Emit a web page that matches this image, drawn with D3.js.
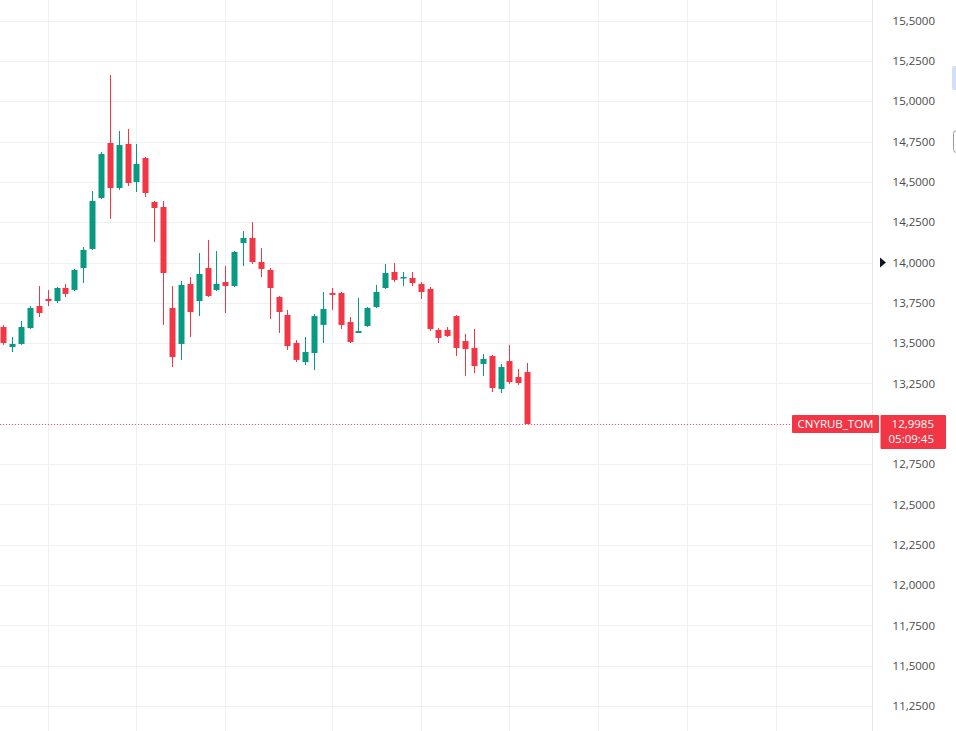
<!DOCTYPE html>
<html>
<head>
<meta charset="utf-8">
<script src="https://cdn.jsdelivr.net/npm/d3@7"></script>
<style>
  html, body { margin: 0; padding: 0; background: #ffffff; overflow: hidden; }
  svg { display: block; }
</style>
</head>
<body>
<svg id="chart" width="956" height="731"></svg>
<script>
// ---- data (CNYRUB_TOM daily candles) ----
const opens  = [13.600,13.476,13.495,13.594,13.730,13.774,13.761,13.842,13.830,13.966,
                14.084,14.400,14.741,14.462,14.735,14.499,14.648,14.375,14.344,13.718,
                13.495,13.867,13.761,13.966,13.830,13.879,13.854,14.121,14.152,14.003,
                13.954,13.786,13.675,13.501,13.383,13.439,13.613,13.811,13.811,13.631,
                13.563,13.606,13.724,13.842,13.941,13.904,13.904,13.867,13.836,13.582,
                13.582,13.668,13.513,13.470,13.371,13.420,13.216,13.389,13.290,13.321];
const highs  = [13.613,13.538,13.637,13.730,13.854,13.830,13.848,13.867,13.960,14.096,
                14.443,14.685,15.162,14.815,14.828,14.735,14.654,14.381,14.381,13.854,
                13.885,13.910,14.059,14.140,14.071,13.978,14.071,14.195,14.251,14.090,
                13.966,13.792,13.706,13.520,13.538,13.681,13.817,13.842,13.817,13.662,
                13.780,13.724,13.861,13.991,13.997,13.941,13.941,13.879,13.848,13.594,
                13.600,13.675,13.557,13.588,13.433,13.427,13.371,13.489,13.340,13.377];
const lows   = [13.489,13.445,13.489,13.588,13.662,13.730,13.749,13.786,13.823,13.873,
                14.078,14.394,14.270,14.450,14.474,14.437,14.406,14.127,13.613,13.352,
                13.396,13.538,13.668,13.786,13.823,13.687,13.848,13.978,13.991,13.910,
                13.650,13.563,13.458,13.383,13.365,13.334,13.501,13.706,13.588,13.501,
                13.563,13.600,13.718,13.836,13.879,13.854,13.854,13.774,13.575,13.501,
                13.538,13.420,13.296,13.315,13.296,13.197,13.191,13.247,13.241,12.9985];
const closes = [13.501,13.495,13.600,13.718,13.687,13.761,13.842,13.805,13.954,14.078,
                14.381,14.673,14.462,14.728,14.493,14.611,14.431,14.338,13.935,13.414,
                13.861,13.693,13.929,13.792,13.867,13.854,14.065,14.152,14.003,13.960,
                13.842,13.693,13.482,13.396,13.445,13.668,13.712,13.799,13.613,13.507,
                13.575,13.718,13.817,13.935,13.892,13.910,13.873,13.817,13.588,13.532,
                13.544,13.470,13.464,13.358,13.402,13.222,13.352,13.259,13.253,12.9985];
const priceTicks = [11.25,11.5,11.75,12,12.25,12.5,12.75,13,13.25,13.5,13.75,14,14.25,14.5,14.75,15,15.25,15.5];
const gridBars = [5,15,25,37,47,57,67,77,87];   // bar indices where vertical grid lines fall
const symbol = "CNYRUB_TOM";
const lastPrice = 12.9985;
const countdown = "05:09:45";

// ---- layout ----
const W = 956, H = 731;
const plotRight = 872;
const upColor = "#089981", downColor = "#f23645";

const svg = d3.select("#chart");

const x = d3.scaleLinear().domain([0, 59]).range([3.3, 527.2]);
const y = d3.scaleLinear().domain([14, 13]).range([262.5, 423.8]);

const fmt = v => d3.format(".4f")(v).replace(".", ",");

// horizontal grid
svg.append("g").selectAll("line").data(priceTicks).join("line")
  .attr("x1", 0).attr("x2", plotRight)
  .attr("y1", d => Math.round(y(d)) + 0.5).attr("y2", d => Math.round(y(d)) + 0.5)
  .attr("stroke", "#eef0f4").attr("stroke-width", 1);

// vertical grid
svg.append("g").selectAll("line").data(gridBars.filter(i => x(i) < plotRight - 20)).join("line")
  .attr("x1", d => Math.round(x(d)) + 0.5).attr("x2", d => Math.round(x(d)) + 0.5)
  .attr("y1", 0).attr("y2", H)
  .attr("stroke", "#eef0f4").attr("stroke-width", 1);

// axis separator
svg.append("line")
  .attr("x1", plotRight + 0.5).attr("x2", plotRight + 0.5)
  .attr("y1", 0).attr("y2", H)
  .attr("stroke", "#e6e8ee").attr("stroke-width", 1);

// price line (dotted)
const yLast = y(lastPrice);
svg.append("line")
  .attr("x1", 0).attr("x2", 792)
  .attr("y1", Math.round(yLast) + 0.5).attr("y2", Math.round(yLast) + 0.5)
  .attr("stroke", downColor).attr("stroke-width", 1)
  .attr("stroke-dasharray", "1,2").attr("opacity", 0.8);

// candles
const candles = d3.range(opens.length).map(i => ({
  i, o: opens[i], h: highs[i], l: lows[i], c: closes[i]
}));
const bodyW = 6;
const g = svg.append("g");
const cg = g.selectAll("g.c").data(candles).join("g").attr("class", "c")
  .attr("fill", d => d.c >= d.o ? upColor : downColor)
  .attr("stroke", d => d.c >= d.o ? upColor : downColor);
cg.append("line")
  .attr("x1", d => Math.round(x(d.i)) + 0.5).attr("x2", d => Math.round(x(d.i)) + 0.5)
  .attr("y1", d => y(d.h)).attr("y2", d => y(d.l))
  .attr("stroke-width", 1);
cg.append("rect")
  .attr("x", d => Math.round(x(d.i)) + 0.5 - bodyW / 2)
  .attr("width", bodyW)
  .attr("y", d => Math.min(y(d.o), y(d.c)))
  .attr("height", d => Math.max(1.5, Math.abs(y(d.o) - y(d.c))))
  .attr("stroke", "none");

// right price axis
const axis = d3.axisRight(y).tickValues(priceTicks).tickFormat(fmt).tickSize(0);
const ag = svg.append("g").attr("transform", `translate(${plotRight},0)`).call(axis);
ag.select(".domain").remove();
ag.selectAll("text")
  .attr("x", 63).attr("dy", "0.32em")
  .attr("text-anchor", "end")
  .attr("fill", "#4a4a4a")
  .style("font-family", "'Open Sans', 'Noto Sans', sans-serif")
  .style("font-size", "11.5px");

// marker triangle at 14,0000
svg.append("path")
  .attr("d", `M880,${y(14) - 5} L886,${y(14)} L880,${y(14) + 5} Z`)
  .attr("fill", "#131722");

// symbol label on price line
const lb = svg.append("g");
lb.append("rect").attr("x", 792).attr("y", yLast - 9).attr("width", 87).attr("height", 18)
  .attr("fill", downColor).attr("rx", 1);
lb.append("text").attr("x", 835.5).attr("y", yLast).attr("dy", "0.35em")
  .attr("text-anchor", "middle").attr("fill", "#ffffff")
  .style("font-family", "'Open Sans', 'Noto Sans', sans-serif").style("font-size", "11.5px")
  .text(symbol);

// price + countdown label on axis
const pb = svg.append("g");
pb.append("rect").attr("x", 880.5).attr("y", yLast - 9).attr("width", 65.5).attr("height", 34)
  .attr("fill", downColor).attr("rx", 1);
pb.append("text").attr("x", 934).attr("y", yLast).attr("dy", "0.35em")
  .attr("text-anchor", "end").attr("fill", "#ffffff")
  .style("font-family", "'Open Sans', 'Noto Sans', sans-serif").style("font-size", "11.5px")
  .text(fmt(lastPrice));
pb.append("text").attr("x", 934).attr("y", yLast + 15).attr("dy", "0.35em")
  .attr("text-anchor", "end").attr("fill", "#ffffff")
  .style("font-family", "'Open Sans', 'Noto Sans', sans-serif").style("font-size", "11.5px")
  .text(countdown);

// small UI fragments at the right edge
svg.append("rect").attr("x", 952).attr("y", 66).attr("width", 6).attr("height", 24)
  .attr("fill", "#cfe0f7").attr("rx", 2);
svg.append("rect").attr("x", 953.5).attr("y", 130.5).attr("width", 6).attr("height", 22)
  .attr("fill", "none").attr("stroke", "#9a9a9a").attr("rx", 3);
</script>
</body>
</html>
